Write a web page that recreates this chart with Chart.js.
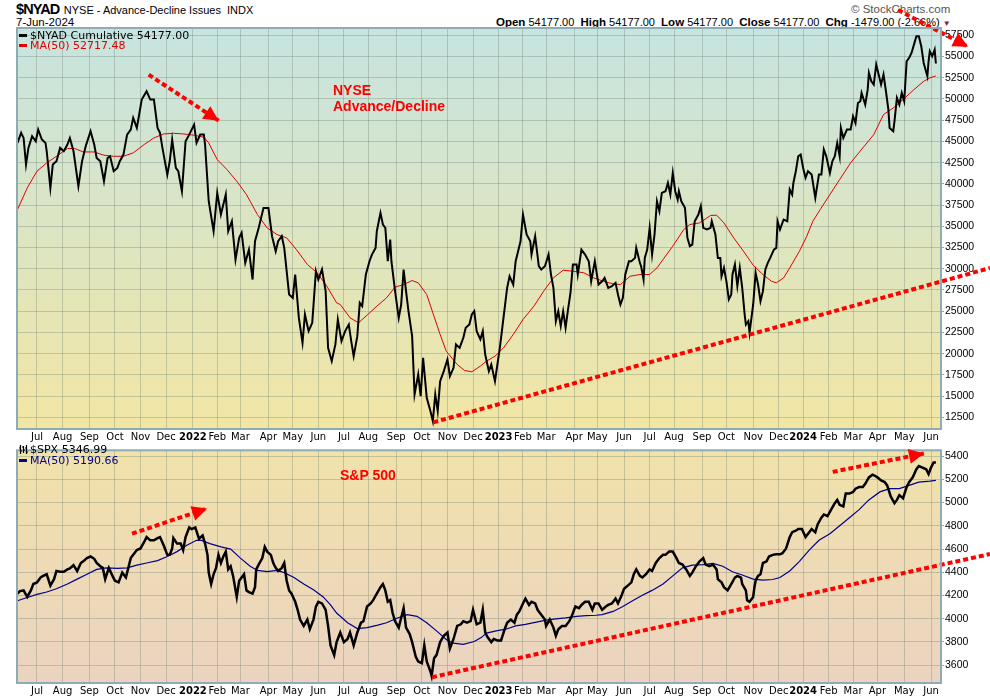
<!DOCTYPE html>
<html><head><meta charset="utf-8">
<script src="https://cdn.jsdelivr.net/npm/chart.js@4.4.1/dist/chart.umd.min.js"></script>
<style>
html,body{margin:0;padding:0;background:#fff;}
#wrap{position:relative;width:990px;height:700px;overflow:hidden;font-family:"Liberation Sans",Arial,sans-serif;}
canvas{position:absolute;left:0;}
#c1{top:0;z-index:2;}
#c2{top:443px;z-index:2;}
.hdr{position:absolute;z-index:1;white-space:nowrap;color:#000;}
.ov{position:absolute;z-index:3;white-space:nowrap;}
.lg{font-family:"DejaVu Sans",Verdana,sans-serif;font-size:11px;line-height:12px;}
.dash{display:inline-block;width:8px;height:3px;vertical-align:middle;margin-right:3px;position:relative;top:-1px;}
.note{font-family:"Liberation Sans",Arial,sans-serif;font-weight:bold;font-size:14px;line-height:16px;color:#f00;}
</style>
</head><body>
<div id="wrap">
  <div class="hdr" style="left:16px;top:0px;line-height:17px;"><span style="font-weight:bold;font-size:14.5px;letter-spacing:-0.9px;">$NYAD</span> <span style="font-size:11px;">NYSE - Advance-Decline Issues&nbsp; INDX</span></div>
  <div class="hdr" style="left:16px;top:16px;font-size:11.5px;line-height:13px;">7-Jun-2024</div>
  <div class="hdr" style="left:851px;top:3px;font-size:11.5px;line-height:13px;color:#555;">&#169; StockCharts.com</div>
  <div class="hdr" style="left:496px;top:16px;font-size:11px;line-height:13px;"><b style="font-size:11.5px">Open</b> 54177.00&nbsp; <b style="font-size:11.5px">High</b> 54177.00&nbsp; <b style="font-size:11.5px">Low</b> 54177.00&nbsp; <b style="font-size:11.5px">Close</b> 54177.00&nbsp; <b style="font-size:11.5px">Chg</b> -1479.00 (-2.66%) <span style="color:#8b1a3a;font-size:8px;">&#9660;</span></div>

  <canvas id="c1" width="990" height="443"></canvas>
  <canvas id="c2" width="990" height="257"></canvas>

  <div class="ov lg" style="left:19px;top:30px;color:#000;"><span class="dash" style="background:#000;"></span>$NYAD Cumulative 54177.00</div>
  <div class="ov lg" style="left:19px;top:40px;color:#e00000;"><span class="dash" style="background:#e00000;"></span>MA(50) 52717.48</div>
  <div class="ov note" style="left:333px;top:82px;">NYSE</div>
  <div class="ov note" style="left:333px;top:98px;">Advance/Decline</div>

  <div class="ov lg" style="left:19px;top:444px;color:#000;"><svg width="9" height="9" style="margin-right:2px;vertical-align:-1px"><path d="M1.5 0V9M4.5 1V8M7.5 0V9M0 3H1.5M1.5 6H3M3 2H4.5M4.5 5H6M6 3H7.5M7.5 7H9" stroke="#000" stroke-width="1.2" fill="none"/></svg>$SPX 5346.99</div>
  <div class="ov lg" style="left:19px;top:455px;color:#00008b;"><span class="dash" style="background:#00008b;"></span>MA(50) 5190.66</div>
  <div class="ov note" style="left:340px;top:467px;">S&amp;P 500</div>
</div>
<script>
// ---------- axis / tick data ----------
const monthDays = [17,38,60,81,102,123,145,165,184,207,227,248,269,289,312,333,354,375,396,416,435,458,477,499,520,540,563,583,605,626,646,667,687,707,729,751];
const monthLabels = ['Jul','Aug','Sep','Oct','Nov','Dec','2022','Feb','Mar','Apr','May','Jun','Jul','Aug','Sep','Oct','Nov','Dec','2023','Feb','Mar','Apr','May','Jun','Jul','Aug','Sep','Oct','Nov','Dec','2024','Feb','Mar','Apr','May','Jun'];
const nyadTicks = [12500,15000,17500,20000,22500,25000,27500,30000,32500,35000,37500,40000,42500,45000,47500,50000,52500,55000,57500];
const spxTicks = [3600,3800,4000,4200,4400,4600,4800,5000,5200,5400];

// ---------- $NYAD cumulative (trading-day index / value) ----------
const nyadDay = [1,4,6,8,10,13,16,18,21,24,25,28,30,33,36,39,42,44,47,51,54,57,61,64,66,69,72,75,77,80,83,85,88,91,94,96,99,103,107,110,113,116,118,120,124,126,128,131,133,136,139,142,146,148,151,154,155,158,162,165,168,172,174,177,180,183,185,188,191,194,196,199,203,207,210,213,215,218,220,222,224,227,229,232,235,237,240,243,246,248,251,254,256,259,262,264,267,270,273,275,277,280,282,284,287,290,292,295,296,299,301,303,305,307,308,311,314,316,318,320,322,325,327,330,332,334,337,340,342,344,346,348,351,354,356,359,361,364,367,369,372,374,376,378,381,383,385,388,390,393,395,397,400,403,405,408,410,412,414,416,419,422,423,426,429,431,434,437,439,441,443,445,447,449,451,453,455,457,460,461,464,467,470,472,475,478,481,483,486,489,492,494,496,498,500,503,505,508,509,512,513,515,516,518,520,522,524,526,528,530,533,535,537,539,541,543,544,546,549,551,553,555,557,560,562,564,567,570,571,574,576,578,579,581,583,585,587,588,590,592,594,596,598,599,601,602,605,607,609,611,613,615,617,619,622,624,625,627,630,633,635,637,638,640,642,644,646,648,650,653,656,659,661,663,665,668,670,672,674,676,677,679,682,685,687,689,691,693,694,697,699,700,702,704,706,708,710,712,714,716,717,720,721,723,725,727,729,731,733,735,737,739,741,743,745,748,749,750,752,754,755];
const nyadVal = [44820,46000,45410,42270,44230,45610,45020,46390,45220,44820,43840,39520,42270,42660,44230,43840,44630,45410,43840,39720,42660,44430,46200,44630,43060,42660,40310,43060,43250,41490,41880,42660,43450,45800,46390,47770,46590,49930,50910,49930,49930,46590,46000,44230,41090,42660,45220,41880,41490,39130,45020,45800,46980,44820,45800,45800,44630,37950,34420,38940,36380,38740,34420,35600,31090,33640,34230,30690,32260,28730,33240,34810,37170,37170,33830,32070,33240,33830,32460,29710,26960,26570,29320,24210,21270,24610,22650,23630,29710,28730,29910,27360,20680,19110,21080,24020,21470,22650,23430,21470,19700,22060,25980,25590,29320,30890,31670,32460,34420,36580,35210,34810,30890,33440,30890,27360,24210,25780,29910,27360,25000,22060,15190,17550,14990,19510,14800,13230,12050,15190,13230,16760,17940,19310,17350,18330,21080,20680,21860,23040,23430,24610,25000,22650,21670,22650,19900,17940,18720,16760,18720,20680,24210,27750,29120,28140,30890,32070,33240,36380,34030,33240,31670,33830,30300,29910,30300,31670,29320,27750,23820,25000,23240,25000,23040,25200,27160,30500,30500,29320,32260,31670,30890,28530,30890,28140,28530,28930,27750,27950,28340,26960,25790,26570,29320,30890,30890,31280,32460,30690,30300,28730,31280,32260,34810,31670,34030,37950,36780,38940,39130,40110,38740,41290,39130,38150,39130,37950,37170,33640,32660,32850,35600,36380,37370,34810,34620,34810,35600,34030,31280,31280,29120,30100,28530,26380,26960,29320,30500,27950,30100,27750,24610,23430,23820,22450,25790,29520,28140,26180,27360,29910,30690,31280,32260,32460,35600,34620,35800,35600,39330,38740,40110,41490,43250,43450,41880,40700,41490,41090,38350,41090,41090,44040,43250,41290,42660,43250,44820,43250,46590,45410,46390,46390,47960,47180,49530,49730,50710,49340,51100,53070,52080,51690,54050,52870,51690,52870,50910,48750,46590,46200,47370,50120,49340,50710,49730,54440,54830,55420,56400,57380,57380,56210,54240,52670,54440,55620,55030,55810,54177];
const nyadMaDay = [1,9,17,25,33,42,48,55,64,72,80,88,96,105,113,121,129,137,146,154,158,165,173,181,189,198,206,214,222,230,239,247,255,263,266,274,281,288,296,304,311,318,325,330,337,342,348,353,362,368,374,381,386,393,400,408,416,425,433,441,449,457,466,474,482,490,496,504,512,520,526,531,539,548,553,561,570,575,581,589,597,605,613,620,624,630,635,643,649,654,660,668,676,685,695,704,712,720,728,737,745,750,755];
const nyadMaVal = [36970,39520,41490,42470,43250,44160,44160,43760,43760,43370,43250,43250,43650,44630,45410,45880,45960,45880,45730,45490,44820,42860,41680,40310,38740,36380,34810,34030,33640,32260,30500,29520,27940,25980,25790,24220,23630,24530,25590,26570,27830,28140,28610,28340,26960,24810,22250,20290,18720,18020,17860,18530,19110,19700,20680,22250,24020,25590,27360,28930,29830,29710,29520,28930,28530,28220,28140,29120,29320,29320,30100,31090,32660,34620,35210,35400,36270,36310,35400,33640,32070,30420,29320,28530,28340,28930,30100,32070,33830,35600,36970,38740,40510,42470,44230,45800,48160,48940,49930,51100,52080,52480,52717];

// ---------- $SPX ----------
const spxDay = [1,3,6,9,12,14,17,20,22,25,28,31,33,36,39,42,44,47,50,53,55,58,61,64,66,69,71,73,76,79,81,84,87,90,92,94,96,99,102,105,107,110,113,116,118,121,124,126,128,129,132,135,137,139,142,144,147,150,153,155,157,158,160,162,164,166,168,170,172,174,176,178,181,183,185,187,189,191,194,196,197,199,202,204,206,209,211,213,215,218,220,222,224,226,229,231,233,236,239,241,244,246,248,251,254,256,258,261,263,266,269,272,274,277,280,283,285,288,291,293,296,299,301,303,305,307,309,311,314,317,318,320,323,325,328,330,333,335,337,340,341,343,345,348,351,354,356,359,362,365,367,370,373,375,378,381,383,385,387,390,392,395,398,401,403,406,409,411,413,416,418,421,423,426,428,431,434,435,438,441,443,445,448,451,454,456,459,462,464,467,470,473,475,478,481,484,486,489,492,494,497,499,502,505,507,509,512,514,517,520,522,525,528,531,533,536,539,542,544,547,550,553,555,558,561,564,566,569,572,575,576,579,581,584,587,590,592,595,596,599,600,602,605,606,607,609,611,613,616,618,621,624,627,629,632,635,637,640,642,645,648,651,653,656,658,661,663,666,669,672,674,676,679,681,684,687,689,692,695,697,700,703,705,707,710,713,715,718,721,723,725,728,731,733,736,739,741,744,747,749,751,753,755];
const spxVal = [4216,4238,4244,4188,4244,4299,4313,4355,4369,4383,4285,4341,4411,4405,4405,4425,4433,4461,4411,4480,4494,4522,4536,4516,4480,4452,4438,4341,4438,4369,4327,4313,4397,4355,4438,4522,4550,4591,4605,4661,4703,4675,4675,4694,4703,4633,4550,4550,4605,4694,4647,4647,4591,4703,4786,4772,4786,4689,4717,4647,4550,4397,4299,4383,4438,4550,4480,4536,4578,4425,4452,4369,4188,4327,4355,4383,4244,4230,4216,4272,4425,4466,4522,4619,4578,4550,4480,4438,4411,4438,4480,4327,4244,4216,4146,4077,3993,3938,3993,3910,3993,4105,4146,4132,4077,3938,3771,3687,3799,3882,3799,3826,3882,3771,3882,3966,3979,4105,4132,4160,4216,4272,4299,4244,4146,4160,4049,3979,3924,4049,4091,3924,3868,3799,3673,3632,3618,3771,3632,3548,3507,3660,3687,3799,3854,3882,3743,3826,3938,3952,3979,3966,3979,4077,3952,3966,4077,3882,3840,3799,3826,3813,3813,3910,3966,3993,3966,4035,4063,4132,4174,4119,4146,4132,4077,4035,3993,3938,3993,3924,3854,3910,3938,3938,3979,4021,4105,4091,4119,4146,4146,4077,4132,4132,4077,4105,4119,4132,4174,4132,4202,4258,4285,4313,4383,4425,4369,4355,4383,4425,4411,4480,4522,4550,4550,4578,4578,4522,4480,4466,4425,4369,4397,4452,4494,4522,4466,4452,4466,4425,4341,4313,4272,4244,4299,4355,4369,4355,4299,4244,4160,4146,4188,4272,4327,4369,4383,4480,4494,4536,4550,4555,4555,4564,4605,4703,4745,4758,4772,4772,4703,4745,4772,4745,4814,4870,4898,4884,4939,4995,5023,4981,4967,5078,5078,5092,5120,5134,5134,5162,5217,5240,5231,5217,5190,5176,5148,5051,4995,5023,5064,5037,5134,5176,5217,5287,5315,5301,5287,5245,5301,5343,5347];
const spxMaDay = [1,9,17,25,33,42,50,58,66,74,83,91,99,107,116,124,132,140,148,152,159,168,176,184,192,198,206,214,220,228,236,244,252,258,263,272,280,288,296,304,313,321,329,337,345,354,359,367,376,382,386,394,402,410,418,427,435,443,451,460,468,476,481,490,498,506,514,522,531,539,547,555,564,572,580,588,596,605,613,621,627,635,643,651,659,668,676,684,692,700,709,717,725,733,741,750,755];
const spxMaVal = [4155,4183,4210,4230,4258,4299,4341,4383,4425,4438,4433,4438,4461,4480,4500,4536,4578,4633,4675,4675,4647,4619,4600,4522,4452,4416,4405,4416,4397,4355,4299,4249,4188,4119,4049,3966,3915,3924,3943,3966,4007,4035,4021,3966,3896,3813,3790,3779,3804,3840,3877,3896,3910,3938,3952,3971,3988,3999,4007,4021,4027,4030,4035,4063,4105,4155,4202,4244,4299,4369,4438,4461,4466,4477,4452,4405,4377,4341,4333,4338,4355,4411,4494,4591,4675,4731,4800,4870,4939,5023,5092,5120,5120,5148,5176,5184,5191];

// ---------- hand-drawn annotations (day index / value) ----------
const nyadTrendDay = [342.4, 799.4];
const nyadTrendVal = [11910, 30090];
const nyadArrow1Day = [108.7, 166.2];
const nyadArrow1Val = [52860, 47440];
const nyadArrow2Day = [723.9, 781.4];
const nyadArrow2Val = [60480, 56160];
const spxTrendDay = [341.3, 799.4];
const spxTrendVal = [3497, 4557];
const spxArrow1Day = [95.0, 156.6];
const spxArrow1Val = [4732, 4949];
const spxArrow2Day = [670.3, 745.2];
const spxArrow2Val = [5264, 5423];

// ---------- helpers ----------
function pts(xs, ys){ return xs.map((x,i)=>({x:x, y:ys[i]})); }
const RED = '#ff0000';

const panelPlugin = {
  id:'panel',
  beforeDraw(chart, args, o){
    const {ctx, chartArea:a} = chart;
    const g = ctx.createLinearGradient(0, a.top, 0, a.bottom);
    g.addColorStop(0, o.top); g.addColorStop(1, o.bottom);
    ctx.save(); ctx.fillStyle = g;
    ctx.fillRect(a.left, a.top, a.right - a.left, a.bottom - a.top);
    ctx.restore();
  },
  afterDatasetsDraw(chart, args, o){
    const {ctx, chartArea:a} = chart;
    ctx.save(); ctx.strokeStyle = o.border; ctx.lineWidth = 2;
    ctx.strokeRect(a.left, a.top, a.right - a.left, a.bottom - a.top);
    ctx.restore();
    // arrow heads
    chart.data.datasets.forEach((ds, i) => {
      if (!ds.arrowTip) return;
      const p = chart.getDatasetMeta(i).data;
      const p0 = p[p.length - 2], p1 = p[p.length - 1];
      const ang = Math.atan2(p1.y - p0.y, p1.x - p0.x);
      const L = 15, W = 7.5, c = Math.cos(ang), s = Math.sin(ang);
      ctx.save(); ctx.fillStyle = ds.borderColor; ctx.beginPath();
      ctx.moveTo(p1.x, p1.y);
      ctx.lineTo(p1.x - L*c + W*s, p1.y - L*s - W*c);
      ctx.lineTo(p1.x - L*c - W*s, p1.y - L*s + W*c);
      ctx.closePath(); ctx.fill(); ctx.restore();
    });
  }
};

function annot(xs, ys, tip){
  return {data: pts(xs, ys), borderColor: RED, borderWidth: 4, borderDash: [5,3], borderCapStyle: 'butt',
          pointRadius: 0, tension: 0, clip: false, arrowTip: tip};
}

function xScale(h){
  return {
    type:'linear', min:0.6, max:759.2,
    afterBuildTicks(s){ s.ticks = monthDays.map(v => ({value:v})); },
    afterFit(s){ s.height = h; },
    ticks:{ autoSkip:false, maxRotation:0, padding:2, color:'#000',
      callback:(v, i) => monthLabels[i],
      font:(ctx) => ({family:'"DejaVu Sans", Verdana, sans-serif', size:10,
        weight: /^\d{4}$/.test(monthLabels[ctx.index] || '') ? 'bold' : 'normal'}) },
    grid:{ color:'rgba(110,130,110,0.34)', lineWidth:1, drawTicks:false },
    border:{ display:false }
  };
}
function yScale(min, max, tickArr){
  return {
    type:'linear', position:'right', min:min, max:max,
    afterBuildTicks(s){ s.ticks = tickArr.map(v => ({value:v})); },
    afterFit(s){ s.width = 49; },
    ticks:{ padding:1, color:'#000', font:{family:'"Liberation Sans", Arial, sans-serif', size:10.5},
      callback:(v) => String(v) },
    grid:{ color:'rgba(110,130,110,0.34)', lineWidth:1, drawTicks:true, tickLength:3, tickColor:'#8aa8b0' },
    border:{ display:false }
  };
}
const common = {
  responsive:false, animation:false, events:[],
  plugins:{ legend:{display:false}, tooltip:{enabled:false} },
  elements:{ point:{ radius:0 }, line:{ tension:0 } }
};

new Chart(document.getElementById('c1'), {
  type:'line',
  data:{ datasets:[
    annot(nyadArrow2Day, nyadArrow2Val, true),
    annot(nyadArrow1Day, nyadArrow1Val, true),
    annot(nyadTrendDay, nyadTrendVal, false),
    {data: pts(nyadDay, nyadVal), borderColor:'#000', borderWidth:2, pointRadius:0},
    {data: pts(nyadMaDay, nyadMaVal), borderColor:'#e00000', borderWidth:1, pointRadius:0}
  ]},
  options: Object.assign({}, common, {
    layout:{ padding:{left:17, top:28, right:0, bottom:0} },
    scales:{ x: xScale(14), y: yScale(11122, 58360, nyadTicks) },
    plugins:{ legend:{display:false}, tooltip:{enabled:false},
      panel:{ top:'#c6e4e1', bottom:'#f2e6a4', border:'#8eacb4' } }
  }),
  plugins:[panelPlugin]
});

new Chart(document.getElementById('c2'), {
  type:'line',
  data:{ datasets:[
    annot(spxArrow2Day, spxArrow2Val, true),
    annot(spxArrow1Day, spxArrow1Val, true),
    annot(spxTrendDay, spxTrendVal, false),
    {data: pts(spxDay, spxVal), borderColor:'#000', borderWidth:2.5, pointRadius:0},
    {data: pts(spxMaDay, spxMaVal), borderColor:'#00008b', borderWidth:1.2, pointRadius:0}
  ]},
  options: Object.assign({}, common, {
    layout:{ padding:{left:17, top:0, right:0, bottom:0} },
    scales:{ x: xScale(17), y: yScale(3447, 5450, spxTicks) },
    plugins:{ legend:{display:false}, tooltip:{enabled:false},
      panel:{ top:'#f1e2aa', bottom:'#ebd3c1', border:'#8eacb4' } }
  }),
  plugins:[panelPlugin]
});
</script>
</body></html>
